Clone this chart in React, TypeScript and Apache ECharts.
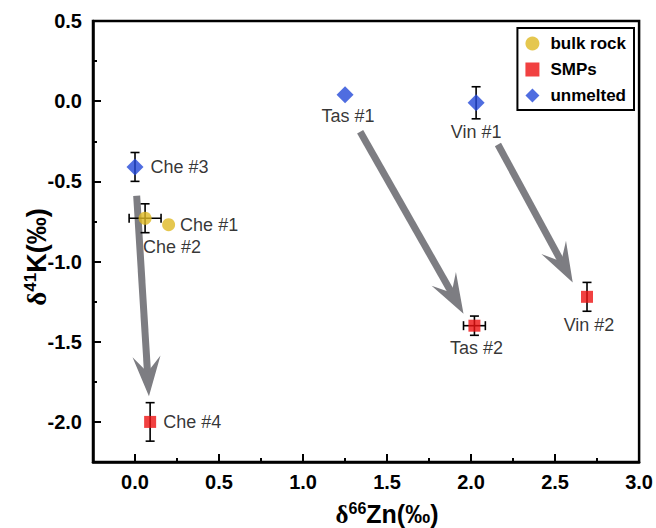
import React, { useEffect, useRef } from "react";
import * as echarts from "echarts";

// ---------- data ----------
const bulkNames = ["Che #1", "Che #2"];
const bulkX = [0.2, 0.06];
const bulkY = [-0.77, -0.73];
const bulkXErr = [0, 0.095];
const bulkYErr = [0, 0.09];

const smpNames = ["Che #4", "Tas #2", "Vin #2"];
const smpX = [0.09, 2.02, 2.69];
const smpY = [-2.0, -1.4, -1.22];
const smpXErr = [0, 0.065, 0];
const smpYErr = [0.12, 0.06, 0.09];

const unmeltedNames = ["Che #3", "Tas #1", "Vin #1"];
const unmeltedX = [0.0, 1.25, 2.03];
const unmeltedY = [-0.41, 0.04, -0.01];
const unmeltedXErr = [0, 0, 0];
const unmeltedYErr = [0.09, 0, 0.1];

// annotation arrows (data coordinates: tail -> tip)
const arrowFrom = [
  [0.01, -0.59],
  [1.34, -0.19],
  [2.16, -0.27],
];
const arrowTo = [
  [0.083, -1.84],
  [1.955, -1.325],
  [2.605, -1.131],
];

const legendNames = ["bulk rock", "SMPs", "unmelted"];
const xRange = [-0.25, 3.0];
const yRange = [-2.25, 0.5];

// ---------- styles ----------
const FONT = "'Liberation Sans', Arial, Helvetica, sans-serif";
const ARROW_COLOR = "#7d7d82";
const labelPlacement: Record<string, any> = {
  "Che #1": { position: "right", distance: 5 },
  "Che #2": { position: "bottom", distance: 5, offset: [27, 8] },
  "Che #3": { position: "right", distance: 7 },
  "Che #4": { position: "right", distance: 7 },
  "Tas #1": { position: "bottom", distance: 4, offset: [3, 0] },
  "Tas #2": { position: "bottom", distance: 7, offset: [2, 0] },
  "Vin #1": { position: "bottom", distance: 12 },
  "Vin #2": { position: "bottom", distance: 13, offset: [2, 0] },
};

function points(names: string[], xs: number[], ys: number[]) {
  return names.map((n, i) => ({
    name: n,
    value: [xs[i], ys[i]],
    label: {
      show: true,
      formatter: n,
      color: "#000",
      fontSize: 18,
      fontFamily: FONT,
      ...labelPlacement[n],
    },
  }));
}

function errData(xs: number[], ys: number[], xe: number[], ye: number[]) {
  return xs.map((x, i) => [x, ys[i], xe[i], ye[i]]);
}

const halfMajor = (v: number) => Math.abs(v * 2 - Math.round(v * 2)) < 1e-6;

const SQUARE = "path://M0,0L10,0L10,10L0,10Z";
const DIAMOND = "path://M0,-10L10,0L0,10L-10,0Z";

export default function App() {
  const ref = useRef<HTMLDivElement>(null);
  useEffect(() => {
    if (!ref.current) return;
    const chart = echarts.init(ref.current, undefined, { renderer: "svg" });
    const axisCommon = {
      type: "value",
      splitLine: { show: false },
      axisLine: { show: true, onZero: false, lineStyle: { color: "#000", width: 2.5 } },
      axisTick: { show: true, inside: true, length: 8, lineStyle: { color: "#000", width: 2 } },
      axisLabel: {
        color: "#000",
        fontSize: 20,
        fontWeight: "bold",
        fontFamily: FONT,
        showMinLabel: true,
        showMaxLabel: true,
        formatter: (v: number) => (halfMajor(v) ? v.toFixed(1) : ""),
      },
    };
    const minorCommon = {
      type: "value",
      interval: 0.25,
      splitLine: { show: false },
      axisLine: { show: false, onZero: false },
      axisLabel: { show: false },
      axisTick: { show: true, inside: true, length: 4, lineStyle: { color: "#000", width: 2 } },
    };
    const errors = [
      ...errData(bulkX, bulkY, bulkXErr, bulkYErr),
      ...errData(smpX, smpY, smpXErr, smpYErr),
      ...errData(unmeltedX, unmeltedY, unmeltedXErr, unmeltedYErr),
    ];
    const richName = (main: string, sup: string, size: number) => ({
      text: `{d|δ}{s|${sup}}{m|${main}}`,
      rich: {
        d: { fontSize: size, fontWeight: "bold", fontFamily: "'Liberation Serif', 'DejaVu Serif', serif", fill: "#000" },
        s: { fontSize: Math.round(size * 0.64), fontWeight: "bold", fontFamily: FONT, fill: "#000", padding: [0, 0, Math.round(size * 0.48), 0] },
        m: { fontSize: size, fontWeight: "bold", fontFamily: FONT, fill: "#000" },
      },
    });
    chart.setOption({
      animation: false,
      backgroundColor: "#fff",
      grid: {
        left: 93,
        right: 15,
        top: 21,
        bottom: 66,
        show: true,
        borderColor: "#000",
        borderWidth: 2.5,
        backgroundColor: "transparent",
      },
      legend: {
        data: [
          { name: legendNames[0], icon: "circle" },
          { name: legendNames[1], icon: SQUARE },
          { name: legendNames[2], icon: DIAMOND },
        ],
        orient: "vertical",
        right: 22,
        top: 28,
        padding: [7, 8, 6, 8],
        itemWidth: 26,
        itemHeight: 14,
        itemGap: 9,
        symbolKeepAspect: true,
        borderColor: "#000",
        borderWidth: 2,
        textStyle: { color: "#000", fontSize: 17, fontWeight: "bold", fontFamily: FONT },
        selectedMode: false,
      },
      xAxis: [
        { ...axisCommon, min: xRange[0], max: xRange[1], position: "bottom", axisLabel: { ...axisCommon.axisLabel, margin: 10 } },
        { ...minorCommon, min: xRange[0], max: xRange[1], position: "bottom" },
      ],
      yAxis: [
        { ...axisCommon, min: yRange[0], max: yRange[1], position: "left", axisLabel: { ...axisCommon.axisLabel, margin: 11 } },
        { ...minorCommon, min: yRange[0], max: yRange[1], position: "left" },
      ],
      graphic: [
        {
          type: "text",
          x: 387,
          y: 514,
          style: { ...richName("Zn(‰)", "66", 25), textAlign: "center", textVerticalAlign: "middle" },
        },
        {
          type: "text",
          x: 37,
          y: 257,
          rotation: Math.PI / 2,
          style: { ...richName("K(‰)", "41", 27), textAlign: "center", textVerticalAlign: "middle" },
        },
      ],
      series: [
        {
          type: "custom",
          z: 1,
          silent: true,
          data: arrowFrom.map((f, i) => [f[0], f[1], arrowTo[i][0], arrowTo[i][1]]),
          renderItem: (params: any, api: any) => {
            const p1 = api.coord([api.value(0), api.value(1)]);
            const p2 = api.coord([api.value(2), api.value(3)]);
            const dx = p2[0] - p1[0];
            const dy = p2[1] - p1[1];
            const len = Math.sqrt(dx * dx + dy * dy);
            const ux = dx / len;
            const uy = dy / len;
            const nx = -uy;
            const ny = ux;
            const L = 40;
            const W = 14;
            const N = 24;
            const notch = [p2[0] - ux * N, p2[1] - uy * N];
            const b1 = [p2[0] - ux * L + nx * W, p2[1] - uy * L + ny * W];
            const b2 = [p2[0] - ux * L - nx * W, p2[1] - uy * L - ny * W];
            const lineEnd = [p2[0] - ux * (N - 4), p2[1] - uy * (N - 4)];
            return {
              type: "group",
              children: [
                {
                  type: "line",
                  shape: { x1: p1[0], y1: p1[1], x2: lineEnd[0], y2: lineEnd[1] },
                  style: { stroke: ARROW_COLOR, lineWidth: 7 },
                },
                {
                  type: "polygon",
                  shape: { points: [p2, b1, notch, b2] },
                  style: { fill: ARROW_COLOR },
                },
              ],
            };
          },
        },
        {
          type: "custom",
          z: 2,
          silent: true,
          data: errors,
          renderItem: (params: any, api: any) => {
            const x = api.value(0);
            const y = api.value(1);
            const xe = api.value(2);
            const ye = api.value(3);
            const cap = 4.5;
            const style = { stroke: "#000", lineWidth: 1.6 };
            const children: any[] = [];
            if (ye > 0) {
              const top = api.coord([x, y + ye]);
              const bot = api.coord([x, y - ye]);
              children.push({ type: "line", shape: { x1: top[0], y1: top[1], x2: bot[0], y2: bot[1] }, style });
              children.push({ type: "line", shape: { x1: top[0] - cap, y1: top[1], x2: top[0] + cap, y2: top[1] }, style });
              children.push({ type: "line", shape: { x1: bot[0] - cap, y1: bot[1], x2: bot[0] + cap, y2: bot[1] }, style });
            }
            if (xe > 0) {
              const l = api.coord([x - xe, y]);
              const r = api.coord([x + xe, y]);
              children.push({ type: "line", shape: { x1: l[0], y1: l[1], x2: r[0], y2: r[1] }, style });
              children.push({ type: "line", shape: { x1: l[0], y1: l[1] - cap, x2: l[0], y2: l[1] + cap }, style });
              children.push({ type: "line", shape: { x1: r[0], y1: r[1] - cap, x2: r[0], y2: r[1] + cap }, style });
            }
            return { type: "group", children };
          },
        },
        {
          name: "bulk rock",
          type: "scatter",
          z: 3,
          symbol: "circle",
          symbolSize: 13,
          itemStyle: { color: "#dfb923" },
          data: points(bulkNames, bulkX, bulkY),
        },
        {
          name: "SMPs",
          type: "scatter",
          z: 3,
          symbol: "rect",
          symbolSize: 12,
          itemStyle: { color: "#ee1111" },
          data: points(smpNames, smpX, smpY),
        },
        {
          name: "unmelted",
          type: "scatter",
          z: 3,
          symbol: "diamond",
          symbolSize: [17, 17],
          itemStyle: { color: "#2349d8" },
          data: points(unmeltedNames, unmeltedX, unmeltedY),
        },
      ],
    });
    return () => chart.dispose();
  }, []);
  return (
    <div
      ref={ref}
      style={{ position: "fixed", left: 0, top: 0, width: 656, height: 528, background: "#fff" }}
    />
  );
}
